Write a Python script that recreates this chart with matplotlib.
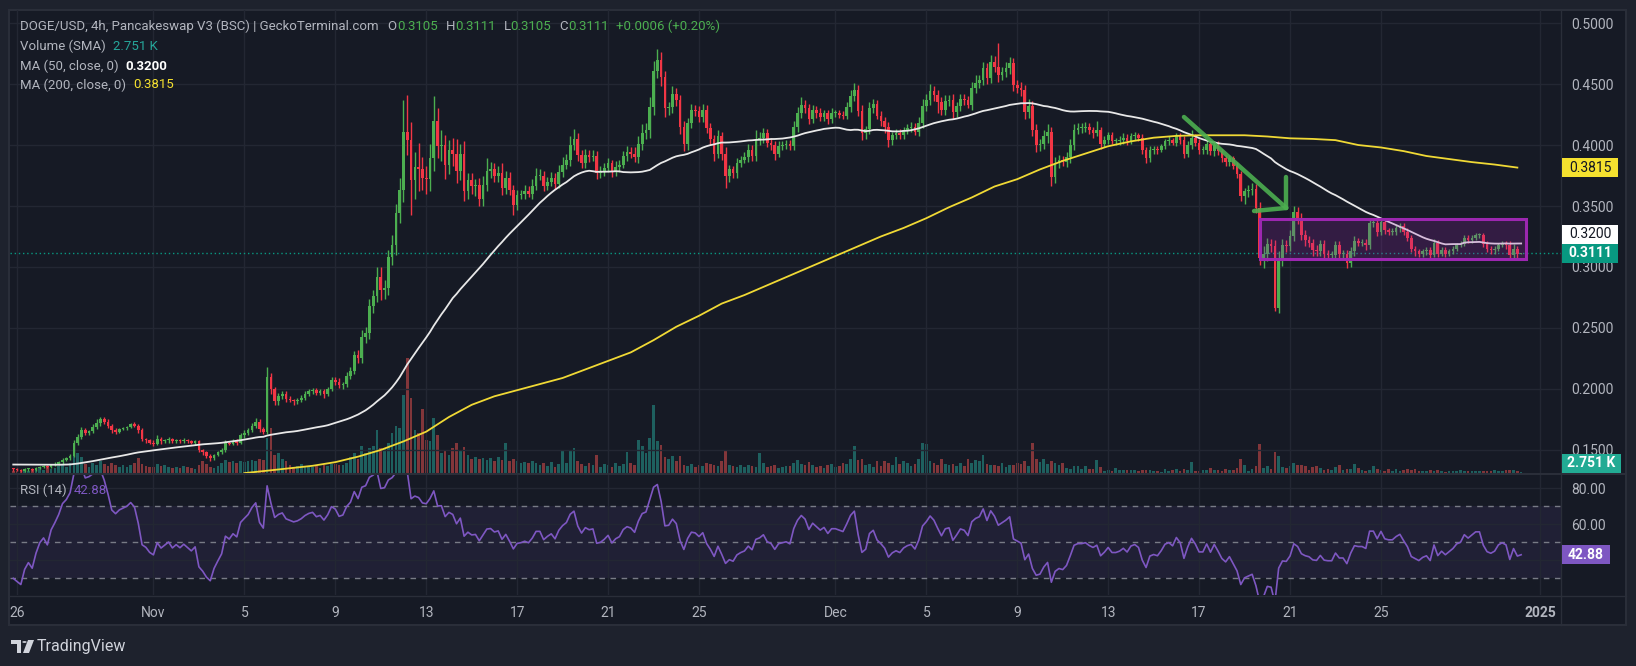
import numpy as np
import pandas as pd
import matplotlib
matplotlib.use('Agg')
import matplotlib.pyplot as plt
import matplotlib.dates as mdates
from matplotlib.patches import Rectangle, Polygon, Circle

plt.rcParams['font.family'] = ['Roboto', 'DejaVu Sans']

W, H = 1636, 666
BG = '#161a25'
OUTER = '#1e222d'
GRID = '#232733'
BORDER = '#2a2e39'
TXT = '#b2b5be'
UP = '#4caf50'
DN = '#f23645'

# ---- data (4h candles, first bar 2024-10-25 20:00) ----
first_bar = '2024-10-25 20:00'

# closes before the visible range (Oct 17 16:00 .. Oct 25 16:00),
# only used to warm up the MA(50) and the RSI
pre_closes = [0.1345, 0.1350, 0.1352, 0.1358,
              0.1360, 0.1355, 0.1362, 0.1368, 0.1372, 0.1375,  # Oct 18
              0.1380, 0.1385, 0.1390, 0.1388, 0.1395, 0.1400,
              0.1405, 0.1410, 0.1408, 0.1412, 0.1415, 0.1420,  # Oct 20
              0.1430, 0.1425, 0.1410, 0.1400, 0.1395, 0.1390,
              0.1385, 0.1380, 0.1375, 0.1370, 0.1372, 0.1368,  # Oct 22
              0.1365, 0.1360, 0.1362, 0.1358, 0.1365, 0.1370,
              0.1385, 0.1390, 0.1388, 0.1385, 0.1382, 0.1380,  # Oct 24
              0.1375, 0.1360, 0.1345]

closes = [
    0.1340,
    0.1335, 0.1330, 0.1340, 0.1345, 0.1338, 0.1350,  # Oct 26
    0.1360, 0.1365, 0.1358, 0.1375, 0.1385, 0.1398,
    0.1420, 0.1430, 0.1450, 0.1560, 0.1610, 0.1660,
    0.1640, 0.1655, 0.1690, 0.1720, 0.1750, 0.1730,
    0.1700, 0.1660, 0.1650, 0.1670, 0.1680, 0.1690,
    0.1710, 0.1700, 0.1660, 0.1590, 0.1580, 0.1560,  # Oct 31
    0.1550, 0.1590, 0.1570, 0.1580, 0.1590, 0.1570,  # Nov 1
    0.1580, 0.1570, 0.1580, 0.1570, 0.1560, 0.1570,
    0.1500, 0.1480, 0.1450, 0.1430, 0.1460, 0.1480,
    0.1500, 0.1560, 0.1550, 0.1570, 0.1560, 0.1620,
    0.1640, 0.1660, 0.1700, 0.1730, 0.1670, 0.1650,  # Nov 5
    0.2100, 0.2000, 0.1900, 0.1940, 0.1960, 0.1920,
    0.1910, 0.1900, 0.1910, 0.1930, 0.1960, 0.1980,
    0.1990, 0.1970, 0.1980, 0.1960, 0.2000, 0.2070,
    0.2060, 0.2030, 0.2040, 0.2110, 0.2150, 0.2280,
    0.2250, 0.2430, 0.2460, 0.2680, 0.2760, 0.2920,  # Nov 10
    0.2810, 0.2830, 0.3080, 0.3180, 0.3440, 0.3630,
    0.4110, 0.4040, 0.3710, 0.3820, 0.3800, 0.3730,
    0.3720, 0.3890, 0.4200, 0.3990, 0.4000, 0.3840,
    0.3960, 0.3930, 0.3790, 0.3930, 0.3620, 0.3710,
    0.3660, 0.3670, 0.3560, 0.3670, 0.3790, 0.3800,  # Nov 15
    0.3750, 0.3770, 0.3650, 0.3730, 0.3630, 0.3510,
    0.3590, 0.3600, 0.3620, 0.3600, 0.3660, 0.3750,
    0.3750, 0.3660, 0.3700, 0.3730, 0.3680, 0.3780,
    0.3840, 0.3880, 0.4000, 0.4050, 0.3920, 0.3850,
    0.3920, 0.3900, 0.3910, 0.3770, 0.3780, 0.3810,  # Nov 20
    0.3850, 0.3780, 0.3820, 0.3840, 0.3910, 0.3940,
    0.3930, 0.3900, 0.4010, 0.4100, 0.4120, 0.4310,
    0.4610, 0.4700, 0.4560, 0.4300, 0.4310, 0.4420,
    0.4370, 0.4150, 0.4010, 0.4180, 0.4290, 0.4280,
    0.4230, 0.4290, 0.4140, 0.4050, 0.3930, 0.4070,  # Nov 25
    0.3930, 0.3750, 0.3800, 0.3770, 0.3850, 0.3880,
    0.3900, 0.3960, 0.3910, 0.4040, 0.4060, 0.4100,
    0.4020, 0.4000, 0.3930, 0.3990, 0.4000, 0.4010,
    0.3990, 0.4150, 0.4260, 0.4330, 0.4300, 0.4210,
    0.4290, 0.4260, 0.4230, 0.4260, 0.4210, 0.4260,  # Nov 30
    0.4260, 0.4250, 0.4240, 0.4310, 0.4400, 0.4450,  # Dec 1
    0.4280, 0.4100, 0.4130, 0.4300, 0.4340, 0.4240,
    0.4200, 0.4150, 0.4040, 0.4080, 0.4100, 0.4080,
    0.4120, 0.4140, 0.4150, 0.4110, 0.4180, 0.4320,
    0.4370, 0.4440, 0.4410, 0.4350, 0.4290, 0.4360,  # Dec 5
    0.4370, 0.4270, 0.4320, 0.4380, 0.4370, 0.4330,
    0.4470, 0.4510, 0.4530, 0.4630, 0.4550, 0.4680,
    0.4640, 0.4570, 0.4600, 0.4630, 0.4670, 0.4490,
    0.4470, 0.4450, 0.4270, 0.4320, 0.4120, 0.4000,
    0.4010, 0.4070, 0.4110, 0.3740, 0.3850, 0.3880,  # Dec 10
    0.3860, 0.3900, 0.4000, 0.4120, 0.4140, 0.4140,
    0.4150, 0.4120, 0.4100, 0.4120, 0.4010, 0.4040,
    0.4080, 0.4030, 0.4030, 0.4040, 0.4060, 0.4030,
    0.4070, 0.4080, 0.4060, 0.3960, 0.3890, 0.3960,
    0.3970, 0.3960, 0.3990, 0.4030, 0.4040, 0.4020,  # Dec 15
    0.4070, 0.4040, 0.3930, 0.4000, 0.4060, 0.4020,
    0.3960, 0.3960, 0.4010, 0.3950, 0.4000, 0.3950,
    0.3890, 0.3860, 0.3890, 0.3830, 0.3760, 0.3580,
    0.3620, 0.3630, 0.3640, 0.3480, 0.3070, 0.3110,
    0.3190, 0.3170, 0.2660, 0.3070, 0.3180, 0.3170,  # Dec 20
    0.3250, 0.3450, 0.3400, 0.3260, 0.3220, 0.3200,
    0.3140, 0.3130, 0.3190, 0.3110, 0.3100, 0.3100,
    0.3180, 0.3110, 0.3110, 0.3030, 0.3130, 0.3210,
    0.3200, 0.3200, 0.3180, 0.3360, 0.3360, 0.3290,
    0.3370, 0.3300, 0.3290, 0.3290, 0.3320, 0.3340,  # Dec 25
    0.3290, 0.3240, 0.3150, 0.3130, 0.3110, 0.3130,
    0.3140, 0.3100, 0.3200, 0.3110, 0.3140, 0.3110,
    0.3130, 0.3150, 0.3180, 0.3190, 0.3240, 0.3220,
    0.3240, 0.3260, 0.3260, 0.3190, 0.3150, 0.3140,
    0.3150, 0.3180, 0.3190, 0.3180, 0.3100, 0.3150,  # Dec 30
    0.3105, 0.3111,
]

# wick length above / below the body, in 0.001
hi_ext = [
    1,
    1, 1, 1, 1, 1, 1,
    1, 1, 1, 1, 2, 1,
    1, 1, 2, 2, 2, 3,
    2, 1, 2, 3, 2, 2,
    2, 1, 2, 1, 1, 1,
    1, 2, 1, 2, 1, 1,
    2, 3, 2, 1, 2, 1,
    1, 1, 2, 1, 1, 1,
    1, 1, 1, 2, 1, 1,
    2, 2, 1, 2, 2, 2,
    2, 2, 2, 3, 2, 2,
    8, 3, 2, 3, 2, 2,
    2, 1, 2, 2, 2, 2,
    2, 2, 2, 2, 2, 3,
    3, 3, 2, 3, 3, 3,
    4, 5, 5, 6, 5, 8,
    8, 6, 6, 8, 8, 10,
    26, 30, 15, 12, 20, 10,
    10, 12, 20, 10, 12, 8,
    8, 10, 12, 8, 10, 6,
    6, 5, 6, 8, 10, 6,
    5, 6, 8, 6, 5, 4,
    4, 3, 5, 4, 6, 6,
    5, 4, 4, 5, 4, 6,
    6, 5, 7, 8, 5, 4,
    5, 4, 5, 4, 5, 4,
    4, 3, 5, 4, 4, 5,
    4, 5, 6, 7, 6, 8,
    8, 9, 6, 5, 4, 6,
    5, 4, 5, 4, 5, 4,
    4, 5, 4, 4, 3, 5,
    4, 5, 4, 3, 4, 3,
    4, 5, 4, 8, 5, 4,
    3, 4, 3, 4, 3, 3,
    3, 5, 5, 6, 4, 4,
    4, 3, 4, 3, 3, 4,
    3, 3, 3, 4, 5, 6,
    4, 5, 3, 5, 4, 3,
    4, 3, 4, 3, 3, 3,
    3, 3, 4, 3, 5, 6,
    5, 6, 4, 4, 4, 5,
    4, 5, 3, 4, 4, 3,
    5, 6, 4, 5, 4, 6,
    5, 20, 4, 5, 5, 4,
    4, 5, 4, 6, 4, 5,
    4, 5, 6, 4, 5, 4,
    3, 4, 5, 5, 4, 4,
    4, 3, 3, 8, 3, 3,
    3, 3, 3, 3, 4, 3,
    3, 3, 2, 3, 2, 3,
    2, 2, 2, 2, 3, 2,
    3, 3, 3, 3, 6, 3,
    3, 3, 3, 2, 3, 3,
    2, 3, 3, 2, 3, 3,
    3, 4, 5, 4, 5, 6,
    5, 4, 5, 6, 5, 4,
    5, 5, 4, 4, 4, 3,
    3, 4, 3, 3, 3, 3,
    3, 3, 3, 3, 3, 4,
    3, 3, 3, 4, 3, 3,
    3, 3, 2, 3, 3, 2,
    2, 3, 2, 2, 2, 2,
    2, 2, 3, 2, 2, 2,
    2, 2, 2, 2, 2, 2,
    2, 2, 2, 2, 2, 2,
    2, 2, 2, 2, 3, 4,
    2, 0,
]
lo_ext = [
    1,
    1, 1, 1, 1, 1, 1,
    1, 1, 1, 1, 1, 1,
    1, 1, 1, 1, 2, 2,
    2, 2, 2, 2, 2, 2,
    2, 2, 2, 1, 1, 2,
    1, 1, 2, 2, 2, 1,
    2, 1, 2, 1, 2, 1,
    1, 1, 1, 1, 1, 2,
    2, 2, 2, 2, 1, 1,
    1, 2, 1, 1, 2, 1,
    2, 2, 1, 2, 2, 2,
    2, 4, 3, 3, 2, 3,
    2, 3, 2, 2, 2, 2,
    2, 2, 2, 3, 2, 2,
    3, 2, 3, 2, 3, 3,
    4, 4, 5, 5, 6, 5,
    8, 7, 6, 6, 8, 8,
    10, 12, 28, 15, 18, 10,
    12, 10, 10, 10, 12, 12,
    8, 10, 10, 8, 8, 6,
    6, 8, 6, 6, 5, 6,
    5, 5, 6, 5, 4, 8,
    4, 3, 4, 3, 4, 3,
    4, 4, 3, 4, 4, 3,
    4, 4, 5, 4, 5, 4,
    4, 4, 3, 5, 4, 3,
    3, 4, 3, 4, 3, 4,
    4, 4, 5, 5, 5, 6,
    6, 6, 8, 7, 5, 5,
    5, 6, 6, 5, 4, 4,
    4, 4, 4, 5, 6, 4,
    5, 10, 5, 4, 4, 3,
    3, 4, 4, 4, 4, 4,
    4, 4, 5, 3, 3, 3,
    3, 3, 4, 4, 4, 4,
    3, 4, 3, 3, 4, 3,
    3, 3, 3, 3, 4, 4,
    4, 6, 5, 4, 4, 3,
    4, 5, 6, 4, 3, 3,
    3, 3, 3, 3, 4, 4,
    4, 4, 5, 9, 4, 4,
    4, 6, 4, 4, 4, 3,
    4, 4, 4, 4, 5, 4,
    4, 5, 4, 4, 5, 5,
    4, 5, 6, 5, 5, 6,
    5, 4, 5, 8, 5, 4,
    3, 4, 5, 4, 3, 4,
    3, 3, 4, 3, 4, 3,
    3, 2, 3, 3, 3, 3,
    2, 3, 3, 3, 4, 3,
    3, 3, 2, 2, 3, 2,
    3, 3, 4, 3, 3, 3,
    3, 3, 3, 3, 4, 3,
    3, 3, 3, 3, 3, 4,
    6, 5, 4, 4, 5, 8,
    6, 5, 2, 4, 6, 5,
    4, 4, 5, 4, 5, 4,
    5, 4, 4, 5, 4, 4,
    3, 5, 4, 4, 3, 4,
    3, 3, 4, 3, 3, 4,
    3, 3, 3, 3, 3, 3,
    3, 3, 3, 4, 3, 3,
    3, 3, 2, 3, 2, 3,
    2, 2, 2, 2, 2, 2,
    2, 2, 2, 3, 3, 3,
    3, 2, 2, 3, 4, 3,
    3, 0,
]

# volume, K
volume = [
    6,
    6, 9, 6, 6, 9, 12,
    15, 9, 18, 12, 15, 21,
    24, 18, 30, 54, 60, 48,
    27, 18, 30, 24, 36, 27,
    21, 30, 24, 18, 24, 18,
    24, 30, 45, 27, 21, 18,
    18, 27, 21, 24, 18, 15,
    18, 15, 21, 18, 15, 12,
    24, 36, 27, 18, 15, 21,
    30, 39, 33, 36, 30, 36,
    33, 36, 39, 36, 42, 39,
    105, 135, 54, 60, 42, 36,
    24, 18, 21, 27, 21, 18,
    18, 21, 15, 24, 21, 27,
    27, 24, 24, 30, 48, 60,
    42, 81, 60, 75, 81, 129,
    75, 72, 90, 120, 141, 135,
    234, 345, 225, 129, 120, 192,
    99, 96, 165, 114, 60, 66,
    54, 75, 90, 66, 78, 54,
    42, 48, 42, 45, 39, 45,
    36, 48, 39, 90, 36, 42,
    36, 30, 33, 30, 36, 30,
    24, 30, 21, 33, 18, 27,
    66, 30, 66, 75, 36, 27,
    21, 30, 24, 54, 18, 27,
    24, 18, 30, 21, 27, 63,
    30, 24, 99, 81, 60, 105,
    204, 96, 84, 48, 42, 51,
    36, 51, 24, 21, 27, 18,
    24, 21, 30, 27, 24, 21,
    36, 66, 24, 21, 18, 24,
    18, 24, 21, 18, 60, 30,
    18, 21, 24, 15, 18, 21,
    21, 30, 39, 27, 24, 33,
    24, 18, 21, 15, 24, 27,
    18, 21, 30, 27, 42, 81,
    39, 42, 24, 27, 18, 36,
    21, 36, 30, 24, 48, 27,
    36, 30, 21, 27, 42, 90,
    87, 36, 30, 24, 42, 27,
    24, 27, 21, 30, 21, 42,
    30, 39, 36, 54, 27, 24,
    24, 21, 30, 18, 24, 24,
    30, 27, 36, 21, 90, 42,
    33, 42, 27, 36, 30, 24,
    30, 15, 12, 21, 21, 12,
    21, 12, 12, 39, 18, 6,
    9, 6, 15, 9, 9, 9,
    9, 9, 6, 9, 9, 9,
    6, 6, 3, 12, 6, 9,
    12, 6, 12, 9, 33, 6,
    6, 9, 9, 15, 9, 9,
    6, 12, 9, 9, 15, 42,
    24, 6, 12, 21, 87, 15,
    21, 12, 63, 51, 18, 15,
    21, 30, 24, 24, 21, 9,
    18, 21, 15, 9, 12, 9,
    18, 24, 9, 12, 12, 27,
    15, 9, 6, 9, 21, 12,
    9, 6, 12, 6, 12, 6,
    9, 12, 9, 12, 6, 6,
    6, 9, 6, 9, 6, 3,
    6, 6, 6, 9, 6, 6,
    6, 6, 6, 6, 6, 6,
    9, 6, 6, 9, 9, 9,
    6, 2.751,
]

# MA(200), read once a day from the chart (its history lies before the data above)
ma200_start = '2024-11-05'
ma200 = [0.131, 0.133, 0.135, 0.137, 0.140, 0.1445, 0.150, 0.157, 0.165, 0.177,
         0.187, 0.194, 0.199, 0.204, 0.209, 0.216, 0.223, 0.230, 0.240, 0.251,
         0.260, 0.270, 0.277, 0.285, 0.293, 0.301, 0.309, 0.317, 0.325, 0.332,
         0.340, 0.349, 0.357, 0.366, 0.372, 0.380, 0.387, 0.393, 0.399, 0.403,
         0.406, 0.4075, 0.408, 0.408, 0.408, 0.407, 0.4055, 0.405, 0.404, 0.400,
         0.398, 0.395, 0.391, 0.3885, 0.386, 0.384, 0.3815]

legend_vol = '2.751 K'
legend_ma50 = '0.3200'
legend_ma200 = '0.3815'
legend_rsi = '42.88'
legend_change = '+0.0006 (+0.20%)'

price_ticks = [0.15, 0.20, 0.25, 0.30, 0.35, 0.40, 0.45, 0.50]
rsi_ticks = [40, 60, 80]
rsi_tick_labels = ['', '60.00', '80.00']
date_ticks = ['2024-10-26', '2024-11-01', '2024-11-05', '2024-11-09', '2024-11-13',
              '2024-11-17', '2024-11-21', '2024-11-25', '2024-12-01', '2024-12-05',
              '2024-12-09', '2024-12-13', '2024-12-17', '2024-12-21', '2024-12-25',
              '2025-01-01']
date_labels = ['26', 'Nov', '5', '9', '13', '17', '21', '25', 'Dec', '5', '9', '13',
               '17', '21', '25', '2025']

# drawings on the chart
arrow_line = (['2024-12-16 08:00', '2024-12-20 20:00'], [0.423, 0.3484])
arrow_head_v = (['2024-12-20 20:00', '2024-12-20 20:00'], [0.3738, 0.3484])
arrow_head_h = (['2024-12-19 10:00', '2024-12-20 20:00'], [0.3459, 0.3484])
range_box = (['2024-12-19 16:00', '2024-12-31 09:00'], [0.3066, 0.3393])

assert len(closes) == len(hi_ext) == len(lo_ext) == len(volume)

# ---- derived series ----
times = pd.date_range(first_bar, periods=len(closes), freq='4h')
t = mdates.date2num(times.to_pydatetime())
c = np.array(closes)
o = np.r_[pre_closes[-1], c[:-1]]
hi = np.maximum(o, c) + np.array(hi_ext) / 1000
lo = np.minimum(o, c) - np.array(lo_ext) / 1000
up = c >= o

allc = np.array(pre_closes + closes)
ma50 = pd.Series(allc).rolling(50).mean().to_numpy()[-len(closes):]

dif = np.diff(allc)
gain = np.clip(dif, 0, None)
loss = np.clip(-dif, 0, None)
n = 14
ag = np.full(len(dif), np.nan)
al = np.full(len(dif), np.nan)
ag[n - 1] = gain[:n].mean()
al[n - 1] = loss[:n].mean()
for i in range(n, len(dif)):
    ag[i] = (ag[i - 1] * (n - 1) + gain[i]) / n
    al[i] = (al[i - 1] * (n - 1) + loss[i]) / n
rsi = (100 - 100 / (1 + ag / al))[-len(closes):]


def dn(s):
    return mdates.date2num(pd.to_datetime(s).to_pydatetime())


def fx(x):
    return x / W


def fy(y):
    return 1 - y / H


# ---- figure ----
fig = plt.figure(figsize=(W / 100, H / 100), dpi=100)
fig.patch.set_facecolor(OUTER)
fig.add_artist(Rectangle((fx(9), fy(625)), (1626 - 9) / W, (625 - 10) / H,
                         transform=fig.transFigure, fc=BG, ec=BORDER, lw=1.5, zorder=-5))

L, R = 10, 1561
ax = fig.add_axes([fx(L), fy(473), (R - L) / W, (473 - 10) / H])
axv = ax.twinx()
axr = fig.add_axes([fx(L), fy(595), (R - L) / W, (595 - 474) / H], sharex=ax)
ax.set_zorder(2)
axv.set_zorder(1)
for a in (ax, axv, axr):
    a.patch.set_visible(False)
    for s in a.spines.values():
        s.set_visible(False)

nov1 = dn('2024-11-01')
ax.set_xlim(nov1 - 6.31, nov1 + 61.92)
ax.set_ylim(0.1311, 0.5107)
axr.set_ylim(20.56, 87.78)

# grid and scales
ax.set_yticks(price_ticks)
ax.set_yticklabels(['%.4f' % v for v in price_ticks])
ax.yaxis.tick_right()
ax.tick_params(axis='y', length=0, pad=7.5, labelcolor=TXT, labelsize=10)
ax.tick_params(axis='x', length=0, labelbottom=False)
ax.grid(True, color=GRID, lw=1, zorder=0)
axv.set_yticks([])
axr.set_xticks([dn(s) for s in date_ticks])
axr.set_xticklabels(date_labels)
axr.set_yticks(rsi_ticks)
axr.set_yticklabels(rsi_tick_labels)
axr.yaxis.tick_right()
axr.tick_params(axis='y', length=0, pad=7.5, labelcolor=TXT, labelsize=10)
axr.tick_params(axis='x', length=0, pad=8, labelcolor=TXT, labelsize=10)
for lb in axr.get_xticklabels():
    if lb.get_text() == '2025':
        lb.set_fontweight('bold')
axr.grid(True, color=GRID, lw=1, zorder=0)

# volume
w = 0.117
vcol = np.where(up, '#26a69a80', '#ef535080')
axv.bar(t, volume, width=w, color=vcol, lw=0)
axv.set_ylim(0, max(volume) * 463 / 115)

# candles
ccol = np.where(up, UP, DN)
ax.vlines(t, lo, hi, colors=ccol, lw=1, zorder=3)
ax.bar(t, np.maximum(np.abs(c - o), 0.0008), bottom=np.minimum(o, c), width=w,
       color=ccol, lw=0, zorder=3.1)

# moving averages
ax.plot(t, ma50, color='#e8e8e8', lw=1.3, zorder=4)
ax.plot(mdates.date2num(pd.date_range(ma200_start, periods=len(ma200), freq='D').to_pydatetime()),
        ma200, color='#f0d935', lw=1.3, zorder=4)

# last price line
ax.axhline(c[-1], color='#089981', ls=(0, (1, 2)), lw=1, zorder=2)

# drawings
bx, by = range_box
ax.add_patch(Rectangle((dn(bx[0]), by[0]), dn(bx[1]) - dn(bx[0]), by[1] - by[0],
                       fc=(0.61, 0.15, 0.69, 0.22), ec='#9c27b0', lw=2.2, zorder=5))
for xs, ys in (arrow_line, arrow_head_v, arrow_head_h):
    ax.plot([dn(s) for s in xs], ys, color='#4caf50', lw=3.2, alpha=0.9,
            solid_capstyle='round', zorder=6)

# rsi
axr.axhspan(30, 70, color='#7e57c2', alpha=0.1, lw=0)
for lv in (30, 50, 70):
    axr.axhline(lv, color='#787b86', lw=1, ls=(0, (4, 4)))
axr.plot(t, rsi, color='#7e57c2', lw=1.2, zorder=3)

# borders
fig.add_artist(plt.Line2D([fx(9), fx(1626)], [fy(473.5), fy(473.5)], color=BORDER, lw=1.5))
fig.add_artist(plt.Line2D([fx(9), fx(1626)], [fy(595.5), fy(595.5)], color=BORDER, lw=1))
fig.add_artist(plt.Line2D([fx(R), fx(R)], [fy(10), fy(625)], color=BORDER, lw=1))

# ---- legend texts ----
r = fig.canvas.get_renderer()


def chain(x, y, parts, size=9.5):
    for s, col, gap, wt in parts:
        tx = fig.text(fx(x), fy(y), s, color=col, fontsize=size, fontweight=wt,
                      va='center', ha='left')
        x += tx.get_window_extent(r).width + gap


GR = '#4caf50'
chain(20, 26, [('DOGE/USD, 4h, Pancakeswap V3 (BSC) | GeckoTerminal.com', TXT, 9, 'normal'),
               ('O', TXT, 0, 'normal'), ('%.4f' % o[-1], GR, 8, 'normal'),
               ('H', TXT, 0, 'normal'), ('%.4f' % hi[-1], GR, 8, 'normal'),
               ('L', TXT, 0, 'normal'), ('%.4f' % lo[-1], GR, 8, 'normal'),
               ('C', TXT, 0, 'normal'), ('%.4f' % c[-1], GR, 8, 'normal'),
               (legend_change, GR, 0, 'normal')])
chain(20, 46, [('Volume (SMA)', TXT, 7, 'normal'), (legend_vol, '#26a69a', 0, 'normal')])
chain(20, 66, [('MA (50, close, 0)', TXT, 7, 'normal'), (legend_ma50, '#ffffff', 0, 'bold')])
chain(20, 85, [('MA (200, close, 0)', TXT, 7, 'normal'), (legend_ma200, '#f5e12f', 0, 'normal')])
chain(20, 490, [('RSI (14)', TXT, 7, 'normal'), (legend_rsi, '#7e57c2', 0, 'normal')])


# ---- price scale labels ----
def label_box(ycen, text, fc, tc, x0=1562, x1=1618, wt='normal'):
    fig.add_artist(Rectangle((fx(x0), fy(ycen + 9.5)), (x1 - x0) / W, 19 / H,
                             transform=fig.transFigure, fc=fc, ec='none', zorder=6))
    fig.text(fx((x0 + x1) / 2), fy(ycen), text, color=tc, fontsize=10, fontweight=wt,
             ha='center', va='center', zorder=7)


def ypix(a, v):
    return H - a.transData.transform((0, v))[1]


y_last = ypix(ax, c[-1])
y_ma50 = min(ypix(ax, float(legend_ma50)), y_last - 19)
label_box(ypix(ax, float(legend_ma200)), legend_ma200, '#f5e12f', '#131722')
label_box(y_ma50, legend_ma50, '#ffffff', '#131722')
label_box(y_last, '%.4f' % c[-1], '#089981', '#ffffff', wt='bold')
label_box(463, legend_vol, '#22ab94', '#ffffff', x1=1621, wt='bold')
label_box(ypix(axr, float(legend_rsi)), legend_rsi, '#7e57c2', '#ffffff', x1=1610, wt='bold')

# ---- TradingView mark ----
LOGO = '#d1d4dc'
for rx, ry, rw, rh in ((11, 640, 10, 4), (17, 640, 4, 13)):
    fig.add_artist(Rectangle((fx(rx), fy(ry + rh)), rw / W, rh / H,
                             transform=fig.transFigure, fc=LOGO, ec='none'))
fig.add_artist(Circle((fx(24.5), fy(642)), 2.2 / W, transform=fig.transFigure, fc=LOGO, ec='none'))
fig.add_artist(Polygon([(fx(28), fy(640)), (fx(34), fy(640)), (fx(29), fy(653)), (fx(23), fy(653))],
                       closed=True, transform=fig.transFigure, fc=LOGO, ec='none'))
fig.text(fx(37), fy(647), 'TradingView', color=LOGO, fontsize=11.5, va='center', ha='left')

fig.savefig('out.png', dpi=100, facecolor=OUTER)
